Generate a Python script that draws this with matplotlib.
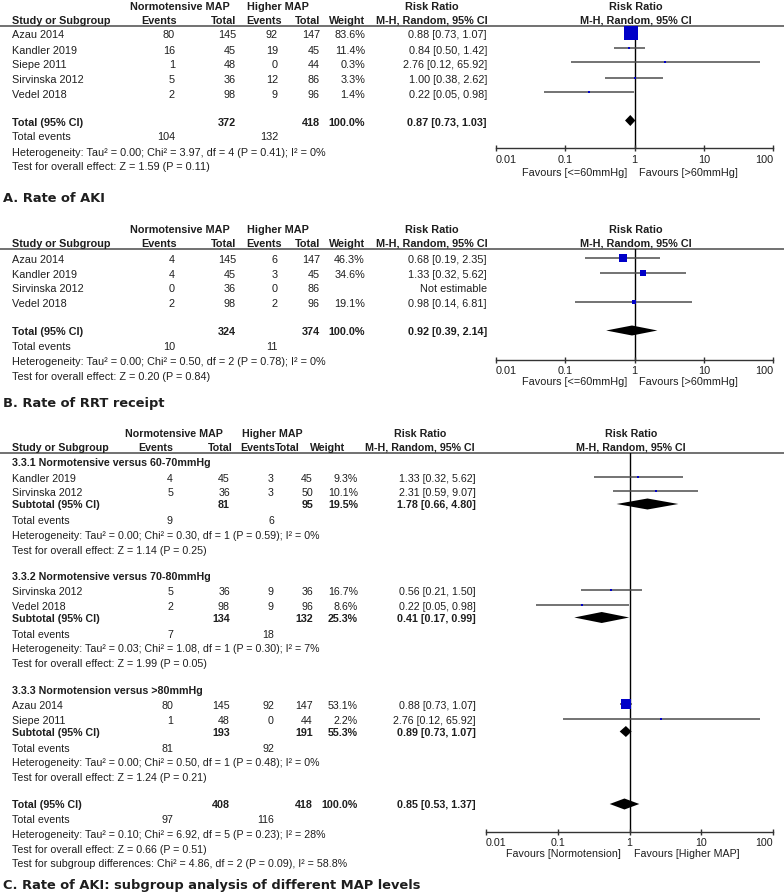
import matplotlib
matplotlib.use('Agg')
import matplotlib.pyplot as plt
from matplotlib.ticker import NullLocator

# ---- panel A: rate of AKI ----
a_studies = ['Azau 2014', 'Kandler 2019', 'Siepe 2011', 'Sirvinska 2012', 'Vedel 2018']
a_ev1 = [80, 16, 1, 5, 2]
a_n1 = [145, 45, 48, 36, 98]
a_ev2 = [92, 19, 0, 12, 9]
a_n2 = [147, 45, 44, 86, 96]
a_weight = [83.6, 11.4, 0.3, 3.3, 1.4]
a_rr = [0.88, 0.84, 2.76, 1.00, 0.22]
a_lo = [0.73, 0.50, 0.12, 0.38, 0.05]
a_hi = [1.07, 1.42, 65.92, 2.62, 0.98]
a_total = [0.87, 0.73, 1.03]
a_total_n = [372, 418]
a_total_ev = [104, 132]
a_het = 'Heterogeneity: Tau² = 0.00; Chi² = 3.97, df = 4 (P = 0.41); I² = 0%'
a_test = 'Test for overall effect: Z = 1.59 (P = 0.11)'

# ---- panel B: RRT receipt ----
b_studies = ['Azau 2014', 'Kandler 2019', 'Sirvinska 2012', 'Vedel 2018']
b_ev1 = [4, 4, 0, 2]
b_n1 = [145, 45, 36, 98]
b_ev2 = [6, 3, 0, 2]
b_n2 = [147, 45, 86, 96]
b_weight = [46.3, 34.6, None, 19.1]
b_rr = [0.68, 1.33, None, 0.98]
b_lo = [0.19, 0.32, None, 0.14]
b_hi = [2.35, 5.62, None, 6.81]
b_total = [0.92, 0.39, 2.14]
b_total_n = [324, 374]
b_total_ev = [10, 11]
b_het = 'Heterogeneity: Tau² = 0.00; Chi² = 0.50, df = 2 (P = 0.78); I² = 0%'
b_test = 'Test for overall effect: Z = 0.20 (P = 0.84)'

# ---- panel C: subgroups ----
c_group_names = ['3.3.1 Normotensive versus 60-70mmHg',
                 '3.3.2 Normotensive versus 70-80mmHg',
                 '3.3.3 Normotension versus >80mmHg']
c_group = [0, 0, 1, 1, 2, 2]
c_studies = ['Kandler 2019', 'Sirvinska 2012', 'Sirvinska 2012', 'Vedel 2018', 'Azau 2014', 'Siepe 2011']
c_ev1 = [4, 5, 5, 2, 80, 1]
c_n1 = [45, 36, 36, 98, 145, 48]
c_ev2 = [3, 3, 9, 9, 92, 0]
c_n2 = [45, 50, 36, 96, 147, 44]
c_weight = [9.3, 10.1, 16.7, 8.6, 53.1, 2.2]
c_rr = [1.33, 2.31, 0.56, 0.22, 0.88, 2.76]
c_lo = [0.32, 0.59, 0.21, 0.05, 0.73, 0.12]
c_hi = [5.62, 9.07, 1.50, 0.98, 1.07, 65.92]
c_sub_n1 = [81, 134, 193]
c_sub_n2 = [95, 132, 191]
c_sub_w = [19.5, 25.3, 55.3]
c_sub_rr = [1.78, 0.41, 0.89]
c_sub_lo = [0.66, 0.17, 0.73]
c_sub_hi = [4.80, 0.99, 1.07]
c_sub_ev1 = [9, 7, 81]
c_sub_ev2 = [6, 18, 92]
c_sub_het = ['Heterogeneity: Tau² = 0.00; Chi² = 0.30, df = 1 (P = 0.59); I² = 0%',
             'Heterogeneity: Tau² = 0.03; Chi² = 1.08, df = 1 (P = 0.30); I² = 7%',
             'Heterogeneity: Tau² = 0.00; Chi² = 0.50, df = 1 (P = 0.48); I² = 0%']
c_sub_test = ['Test for overall effect: Z = 1.14 (P = 0.25)',
              'Test for overall effect: Z = 1.99 (P = 0.05)',
              'Test for overall effect: Z = 1.24 (P = 0.21)']
c_total = [0.85, 0.53, 1.37]
c_total_n = [408, 418]
c_total_ev = [97, 116]
c_het = 'Heterogeneity: Tau² = 0.10; Chi² = 6.92, df = 5 (P = 0.23); I² = 28%'
c_test = 'Test for overall effect: Z = 0.66 (P = 0.51)'
c_subdiff = 'Test for subgroup differences: Chi² = 4.86, df = 2 (P = 0.09), I² = 58.8%'

ticks = [0.01, 0.1, 1, 10, 100]
tick_labels = ['0.01', '0.1', '1', '10', '100']

W, H = 784, 894
FS = 7.8
TXT = '#1e1e1e'
BLUE = '#0000c8'
plt.rcParams['font.family'] = ['Liberation Sans', 'DejaVu Sans']

fig = plt.figure(figsize=(W / 100, H / 100), dpi=100)
bg = fig.add_axes([0, 0, 1, 1])
bg.set_xlim(0, W)
bg.set_ylim(H, 0)
bg.axis('off')


def txt(x, y, s, ha='left', bold=False, size=None, family=None):
    kw = {}
    if family:
        kw['family'] = family
    bg.text(x, y, s, ha=ha, va='center', fontsize=size or FS, color=TXT,
            fontweight='bold' if bold else 'normal', **kw)


def fmt_rr(r, l, h):
    return '%.2f [%.2f, %.2f]' % (r, l, h)


def forest_ax(x0, x1, y0, y1):
    ax = fig.add_axes([x0 / W, 1 - y1 / H, (x1 - x0) / W, (y1 - y0) / H])
    ax.patch.set_alpha(0)
    ax.set_xscale('log')
    ax.set_xlim(0.01, 100)
    ax.set_ylim(y1, y0)
    for s in ['top', 'left', 'right']:
        ax.spines[s].set_visible(False)
    ax.spines['bottom'].set_color('#333333')
    ax.spines['bottom'].set_linewidth(1)
    ax.set_yticks([])
    ax.set_xticks(ticks)
    ax.set_xticklabels(tick_labels)
    ax.xaxis.set_minor_locator(NullLocator())
    ax.tick_params(axis='x', direction='inout', length=5, width=1, colors='#333333',
                   labelsize=FS, labelcolor=TXT, pad=2)
    labs = ax.get_xticklabels()
    labs[0].set_ha('left')
    labs[-1].set_ha('right')
    ax.axvline(1, color='black', lw=1, zorder=1)
    return ax


def study_marks(ax, ys, rr, lo, hi, w):
    for y, r, l, h, ww in zip(ys, rr, lo, hi, w):
        if r is None:
            continue
        ax.hlines(y, l, h, color='#4d4d4d', lw=1.1, zorder=2)
        # square side grows with the study weight
        ax.plot(r, y, 's', color=BLUE, ms=max(2.6, 0.17 * ww) * 0.72, mew=0, zorder=3)


def diamond(ax, y, r, l, h, hh=11):
    ax.fill([l, r, h, r], [y, y - hh / 2, y, y + hh / 2], color='black', lw=0, zorder=3)


def header(y1, y2, rule, cols, rr_c, f_c):
    c_n1, c_n2, c_w, c_h1, c_h2, c_e1, c_e2 = cols
    txt(c_h1, y1, 'Normotensive MAP', ha='center', bold=True)
    txt(c_h2, y1, 'Higher MAP', ha='center', bold=True)
    txt(rr_c, y1, 'Risk Ratio', ha='center', bold=True)
    txt(f_c, y1, 'Risk Ratio', ha='center', bold=True)
    txt(12, y2, 'Study or Subgroup', bold=True)
    txt(c_e1, y2, 'Events', ha='center', bold=True)
    txt(c_n1, y2, 'Total', ha='right', bold=True)
    txt(c_e2, y2, 'Events', ha='center', bold=True)
    txt(c_n2, y2, 'Total', ha='right', bold=True)
    txt(c_w, y2, 'Weight', ha='right', bold=True)
    txt(rr_c, y2, 'M-H, Random, 95% CI', ha='center', bold=True)
    txt(f_c, y2, 'M-H, Random, 95% CI', ha='center', bold=True)
    bg.plot([0, W], [rule, rule], color='#666666', lw=1.3)


def data_row(y, xs, name, e1, n1, e2, n2, w, rrtxt, bold=False):
    txt(12, y, name, bold=bold)
    vals = [e1, n1, e2, n2, w, rrtxt]
    for x, v in zip(xs, vals):
        if v is None or v == '':
            continue
        txt(x, y, str(v), ha='right', bold=bold)


def wtxt(w):
    return '' if w is None else '%.1f%%' % w


OFF = -2  # marks sit a little above the text centre

# ================= panel A =================
xs_ab = [175, 236, 278, 320, 365, 487]
header(7, 20.5, 25.5, [236, 320, 365, 180, 278, 159, 264], 432, 636)
a_rows = [35, 50.5, 64.5, 80, 94.5]
for i, y in enumerate(a_rows):
    data_row(y, xs_ab, a_studies[i], a_ev1[i], a_n1[i], a_ev2[i], a_n2[i],
             wtxt(a_weight[i]), fmt_rr(a_rr[i], a_lo[i], a_hi[i]))
data_row(122.5, xs_ab, 'Total (95% CI)', None, a_total_n[0], None, a_total_n[1],
         '100.0%', fmt_rr(*a_total), bold=True)
txt(12, 137.5, 'Total events')
txt(175, 137.5, str(a_total_ev[0]), ha='right')
txt(278, 137.5, str(a_total_ev[1]), ha='right')
txt(12, 152.5, a_het)
txt(12, 167, a_test)
txt(3, 198, 'A. Rate of AKI', bold=True, size=9.4, family='DejaVu Sans')

axA = forest_ax(496, 773, 25.5, 148.3)
study_marks(axA, [y + OFF for y in a_rows], a_rr, a_lo, a_hi, a_weight)
diamond(axA, 120.5, *a_total)
txt(627, 173, 'Favours [<=60mmHg]', ha='right')
txt(639, 173, 'Favours [>60mmHg]')

# ================= panel B =================
header(230, 244, 249, [236, 320, 365, 180, 278, 159, 264], 432, 636)
b_rows = [260, 275, 289.5, 304]
for i, y in enumerate(b_rows):
    rrt = 'Not estimable' if b_rr[i] is None else fmt_rr(b_rr[i], b_lo[i], b_hi[i])
    data_row(y, xs_ab, b_studies[i], b_ev1[i], b_n1[i], b_ev2[i], b_n2[i],
             wtxt(b_weight[i]), rrt)
data_row(332, xs_ab, 'Total (95% CI)', None, b_total_n[0], None, b_total_n[1],
         '100.0%', fmt_rr(*b_total), bold=True)
txt(12, 347.5, 'Total events')
txt(175, 347.5, str(b_total_ev[0]), ha='right')
txt(278, 347.5, str(b_total_ev[1]), ha='right')
txt(12, 362, b_het)
txt(12, 377, b_test)
txt(3, 404, 'B. Rate of RRT receipt', bold=True, size=9.4, family='DejaVu Sans')

axB = forest_ax(496, 773, 249, 360)
study_marks(axB, [y + OFF for y in b_rows], b_rr, b_lo, b_hi, b_weight)
diamond(axB, 330.5, *b_total, hh=10)
txt(627, 382, 'Favours [<=60mmHg]', ha='right')
txt(639, 382, 'Favours [>60mmHg]')

# ================= panel C (a touch smaller text) =================
FS = 7.7
xs_c = [173, 230, 274, 313, 358, 476]
header(434, 448, 453, [233, 300, 345, 174, 272, 156, 258], 420, 631)
axC = forest_ax(486, 773, 453, 832)
group_top = [463.5, 577, 691]
for g in range(3):
    y0 = group_top[g]
    txt(12, y0, c_group_names[g], bold=True)
    idx = [i for i in range(len(c_group)) if c_group[i] == g]
    ys = [y0 + 15, y0 + 29.5]
    for y, i in zip(ys, idx):
        data_row(y, xs_c, c_studies[i], c_ev1[i], c_n1[i], c_ev2[i], c_n2[i],
                 wtxt(c_weight[i]), fmt_rr(c_rr[i], c_lo[i], c_hi[i]))
    study_marks(axC, [y + OFF for y in ys], [c_rr[i] for i in idx], [c_lo[i] for i in idx],
                [c_hi[i] for i in idx], [c_weight[i] for i in idx])
    ys_sub = y0 + 41.5
    data_row(ys_sub, xs_c, 'Subtotal (95% CI)', None, c_sub_n1[g], None, c_sub_n2[g],
             wtxt(c_sub_w[g]), fmt_rr(c_sub_rr[g], c_sub_lo[g], c_sub_hi[g]), bold=True)
    diamond(axC, ys_sub - 1, c_sub_rr[g], c_sub_lo[g], c_sub_hi[g], hh=11)
    txt(12, y0 + 57.5, 'Total events')
    txt(173, y0 + 57.5, str(c_sub_ev1[g]), ha='right')
    txt(274, y0 + 57.5, str(c_sub_ev2[g]), ha='right')
    txt(12, y0 + 72.5, c_sub_het[g])
    txt(12, y0 + 87, c_sub_test[g])

data_row(805, xs_c, 'Total (95% CI)', None, c_total_n[0], None, c_total_n[1],
         '100.0%', fmt_rr(*c_total), bold=True)
diamond(axC, 804, *c_total, hh=11)
txt(12, 820, 'Total events')
txt(173, 820, str(c_total_ev[0]), ha='right')
txt(274, 820, str(c_total_ev[1]), ha='right')
txt(12, 835, c_het)
txt(12, 850, c_test)
txt(12, 864, c_subdiff)
txt(621, 854, 'Favours [Normotension]', ha='right')
txt(634, 854, 'Favours [Higher MAP]')
txt(3, 886, 'C. Rate of AKI: subgroup analysis of different MAP levels', bold=True,
    size=9.35, family='DejaVu Sans')

fig.savefig('out.png', dpi=100)
